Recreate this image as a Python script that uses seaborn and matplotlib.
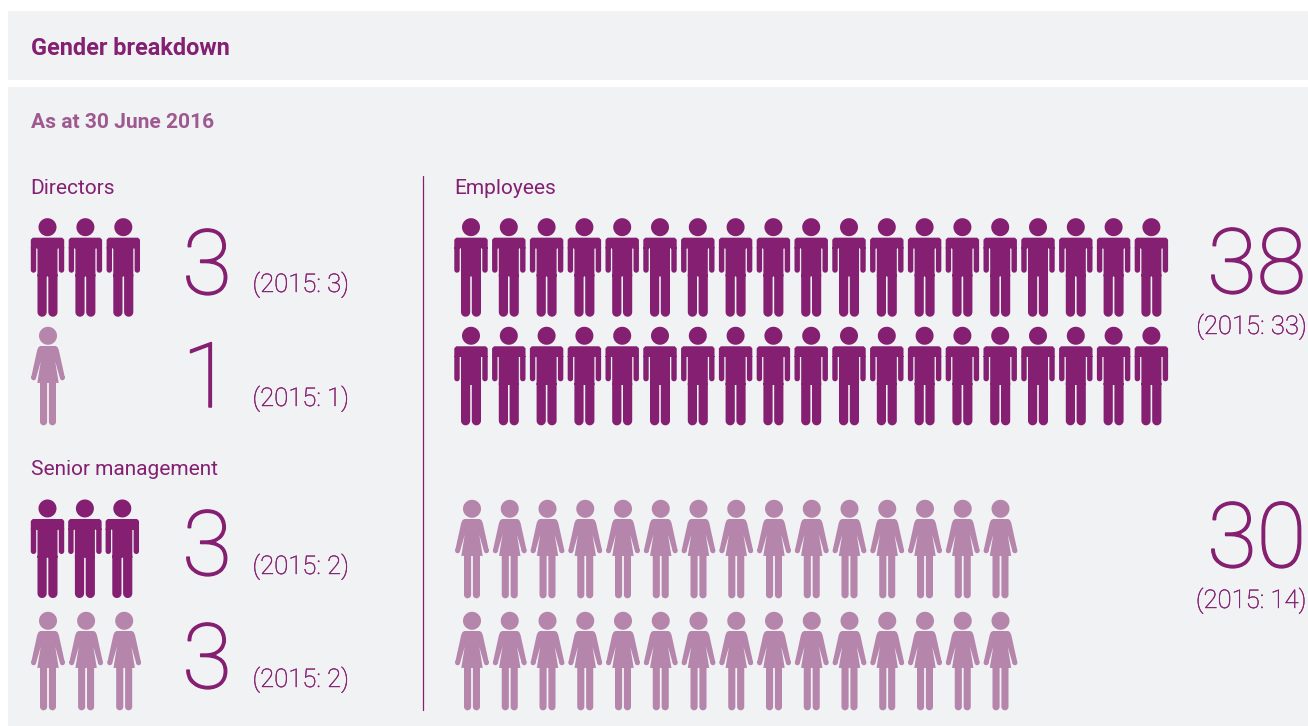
import numpy as np
import pandas as pd
import seaborn as sns
import matplotlib
matplotlib.use("Agg")
import matplotlib.pyplot as plt
from matplotlib.path import Path
from matplotlib.markers import MarkerStyle
from matplotlib.patches import Rectangle
from matplotlib import patheffects as pe

# Head counts as at 30 June 2016, with the 2015 comparatives
groups = ["Directors", "Senior management", "Employees"]
men_2016 = [3, 3, 38]
women_2016 = [1, 3, 30]
men_2015 = [3, 2, 33]
women_2015 = [1, 2, 14]

DARK = "#841F72"
LIGHT = "#B585AB"
SUB = "#9E5A90"
PANEL = "#F1F2F4"
DPI = 100
ICON_H = 98.6  # pixel height of one figure


def poly(points):
    """Closed polygon, always counter-clockwise so overlaps stay filled."""
    pts = np.asarray(points, float)
    x, y = pts[:, 0], pts[:, 1]
    if np.sum(x * np.roll(y, -1) - np.roll(x, -1) * y) < 0:
        pts = pts[::-1]
    verts = np.vstack([pts, pts[0]])
    codes = [Path.MOVETO] + [Path.LINETO] * (len(pts) - 1) + [Path.CLOSEPOLY]
    return Path(verts, codes)


def circle(cx, cy, r):
    t = np.linspace(0, 2 * np.pi, 48, endpoint=False)
    return poly(np.c_[cx + r * np.cos(t), cy + r * np.sin(t)])


def limb(x0, x1, top, bottom):
    """Vertical bar with a rounded lower end."""
    r = (x1 - x0) / 2
    t = np.linspace(np.pi, 2 * np.pi, 14)
    arc = np.c_[(x0 + x1) / 2 + r * np.cos(t), bottom + r + r * np.sin(t)]
    return poly(np.vstack([[[x0, top]], arc, [[x1, top]]]))


def man_path():
    parts = [
        circle(0, 40.2, 9.0),
        poly([(-14.7, 29.7), (14.7, 29.7), (16.7, 27.7), (16.7, 19), (-16.7, 19), (-16.7, 27.7)]),
        limb(-16.7, -11.3, 20, -5.3),
        limb(11.3, 16.7, 20, -5.3),
        poly([(-10, 22), (10, 22), (10, -9), (-10, -9)]),
        limb(-10, -0.8, -7, -49.3),
        limb(0.8, 10, -7, -49.3),
    ]
    return Path.make_compound_path(*parts)


def woman_path():
    # Shoulders, sleeves and dress form one outline; hands and legs are added on
    half = [(7.5, 30), (9.4, 29), (10.8, 26), (16.8, -1.3), (12, -2.3), (7.2, 14.5), (10.7, -6.9)]
    outline = half + [(-x, y) for x, y in reversed(half)]
    parts = [
        circle(0, 40.2, 9.0),
        poly(outline),
        circle(14.4, -1.8, 2.45),
        circle(-14.4, -1.8, 2.45),
        limb(-8, -0.9, -5, -49.3),
        limb(0.9, 8, -5, -49.3),
    ]
    return Path.make_compound_path(*parts)


def expand(count, x0, step, y0, row_gap, per_row):
    """One row per `per_row` figures, one point per person."""
    idx = np.arange(count)
    return pd.DataFrame({"x": x0 + (idx % per_row) * step,
                         "y": y0 + (idx // per_row) * row_gap})


sns.set_theme(style="white")
plt.rcParams["font.family"] = ["Roboto", "DejaVu Sans"]

fig = plt.figure(figsize=(13.08, 7.26), dpi=DPI, facecolor="white")
ax = fig.add_axes([0, 0, 1, 1])
ax.set_xlim(0, 1308)
ax.set_ylim(726, 0)
ax.axis("off")

ax.add_patch(Rectangle((8, 11), 1300, 69, color=PANEL, lw=0, zorder=0))
ax.add_patch(Rectangle((8, 87), 1300, 639, color=PANEL, lw=0, zorder=0))
ax.plot([423, 423], [176, 710], color=DARK, lw=0.9, zorder=1)

size = (ICON_H * 72 / DPI) ** 2
man = MarkerStyle(man_path())
woman = MarkerStyle(woman_path())


def draw(frame, marker, color):
    sns.scatterplot(data=frame, x="x", y="y", marker=marker, s=size, color=color,
                    linewidth=0, edgecolor="none", legend=False, ax=ax, zorder=3)


draw(expand(men_2016[0], 47.5, 37.9, 267.4, 0, 19), man, DARK)
draw(expand(women_2016[0], 48, 37.9, 376, 0, 19), woman, LIGHT)
draw(expand(men_2016[1], 47.5, 37.4, 548.7, 0, 19), man, DARK)
draw(expand(women_2016[1], 48, 38.1, 661, 0, 19), woman, LIGHT)
draw(expand(men_2016[2], 471, 37.8, 267.4, 108.6, 19), man, DARK)
draw(expand(women_2016[2], 472, 37.75, 549, 112, 15), woman, LIGHT)


def label(x, y, s, size_pt, color=DARK, weight="normal", ha="left", bolder=0):
    t = ax.text(x, y, s, fontsize=size_pt, color=color, fontweight=weight, ha=ha, va="baseline", zorder=4)
    if bolder:
        t.set_path_effects([pe.withStroke(linewidth=bolder, foreground=color)])


label(31, 55, "Gender breakdown", 16.9, weight="bold")
label(31, 128, "As at 30 June 2016", 15.1, color=SUB, weight="bold")
label(30.2, 194, groups[0], 15)
label(31, 475, groups[1], 15)
label(454.2, 194, groups[2], 15)

BIG = 65
NOTE = 18.5
light = "light"
label(207, 294, str(men_2016[0]), BIG, weight=light, ha="center", bolder=1.1)
label(207, 407, str(women_2016[0]), BIG, weight=light, ha="center", bolder=1.1)
label(207, 575, str(men_2016[1]), BIG, weight=light, ha="center", bolder=1.1)
label(207, 688, str(women_2016[1]), BIG, weight=light, ha="center", bolder=1.1)
label(1306, 293, str(men_2016[2]), BIG, weight=light, ha="right", bolder=1.1)
label(1306, 567, str(women_2016[2]), BIG, weight=light, ha="right", bolder=1.1)

label(252.5, 292, f"(2015: {men_2015[0]})", NOTE, weight=light, bolder=0.3)
label(252.5, 406, f"(2015: {women_2015[0]})", NOTE, weight=light, bolder=0.3)
label(252.5, 574, f"(2015: {men_2015[1]})", NOTE, weight=light, bolder=0.3)
label(252.5, 687, f"(2015: {women_2015[1]})", NOTE, weight=light, bolder=0.3)
label(1307, 334, f"(2015: {men_2015[2]})", NOTE, weight=light, ha="right", bolder=0.3)
label(1307, 608, f"(2015: {women_2015[2]})", NOTE, weight=light, ha="right", bolder=0.3)

fig.savefig("out.png", dpi=DPI, facecolor="white")
